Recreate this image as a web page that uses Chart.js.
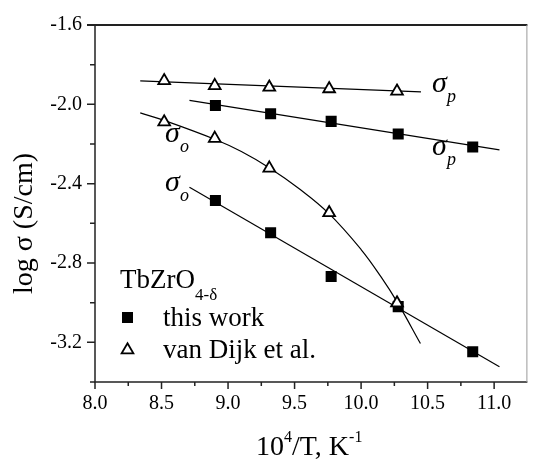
<!DOCTYPE html>
<html>
<head>
<meta charset="utf-8">
<script src="https://cdn.jsdelivr.net/npm/chart.js@4"></script>
<style>
  body { margin: 0; background: #fff; }
</style>
</head>
<body>
<canvas id="sigmaChart" width="536" height="459"></canvas>
<script>
// van Dijk et al. (triangles)
const triX = [8.52, 8.90, 9.31, 9.76, 10.27];
const triSigmaP = [-1.881, -1.906, -1.914, -1.922, -1.934];
const triSigmaO = [-2.089, -2.172, -2.322, -2.547, -3.002];

// this work (squares)
const sqX = [8.905, 9.32, 9.775, 10.279, 10.839];
const sqSigmaP = [-2.006, -2.048, -2.086, -2.150, -2.215];
const sqSigmaO = [-2.485, -2.648, -2.868, -3.020, -3.248];

// fitted lines
const fitTriPX = [8.34, 10.45];
const fitTriPY = [-1.882, -1.937];
const fitSqPX = [8.71, 11.04];
const fitSqPY = [-1.980, -2.230];
const fitSqOX = [8.71, 11.04];
const fitSqOY = [-2.418, -3.323];
const curveTriOX = [8.34, 8.52, 8.90, 9.10, 9.315, 9.54, 9.757, 10.00, 10.15, 10.274, 10.446];
const curveTriOY = [-2.043, -2.081, -2.176, -2.238, -2.322, -2.428, -2.550, -2.732, -2.870, -3.000, -3.206];

// axis ticks
const xTicks = [8.0, 8.5, 9.0, 9.5, 10.0, 10.5, 11.0];
const xMinor = [8.25, 8.75, 9.25, 9.75, 10.25, 10.75];
const yTicks = [-1.6, -2.0, -2.4, -2.8, -3.2];
const yMinor = [-1.8, -2.2, -2.6, -3.0];

const serif = '"Liberation Serif", "Times New Roman", serif';

function pts(xs, ys) {
    return xs.map((x, i) => ({ x: x, y: ys[i] }));
}

function lineSet(xs, ys, smooth) {
    return {
        data: pts(xs, ys),
        showLine: true,
        borderColor: '#000',
        borderWidth: 1.2,
        pointRadius: 0,
        tension: smooth ? 0.4 : 0,
        order: 2
    };
}

const squareStyle = {
    pointStyle: 'rect',
    pointRadius: 7.8,
    backgroundColor: '#000',
    borderColor: '#000',
    borderWidth: 0
};
const triangleStyle = {
    pointStyle: 'triangle',
    pointRadius: 6.8,
    backgroundColor: '#fff',
    borderColor: '#000',
    borderWidth: 1.8
};

const decorations = {
    id: 'decorations',
    afterDraw(chart) {
        const ctx = chart.ctx;
        const xs = chart.scales.x;
        const ys = chart.scales.y;
        const a = chart.chartArea;
        ctx.save();

        // frame
        ctx.strokeStyle = '#222';
        ctx.lineWidth = 1.5;
        ctx.beginPath();
        ctx.moveTo(a.left, a.top);
        ctx.lineTo(a.left, a.bottom);
        ctx.lineTo(a.right, a.bottom);
        ctx.stroke();
        ctx.lineWidth = 2;
        ctx.beginPath();
        ctx.moveTo(a.left - 8, a.top);
        ctx.lineTo(a.right, a.top);
        ctx.stroke();
        ctx.strokeStyle = '#999';
        ctx.lineWidth = 1;
        ctx.beginPath();
        ctx.moveTo(a.right - 0.5, a.top);
        ctx.lineTo(a.right - 0.5, a.bottom);
        ctx.stroke();

        // tick marks
        ctx.strokeStyle = '#222';
        ctx.lineWidth = 1.5;
        ctx.beginPath();
        xTicks.forEach(v => { const p = xs.getPixelForValue(v); ctx.moveTo(p, a.bottom); ctx.lineTo(p, a.bottom + 7); });
        xMinor.forEach(v => { const p = xs.getPixelForValue(v); ctx.moveTo(p, a.bottom); ctx.lineTo(p, a.bottom + 4); });
        yTicks.forEach(v => { const p = ys.getPixelForValue(v); ctx.moveTo(a.left, p); ctx.lineTo(a.left - 8, p); });
        yMinor.forEach(v => { const p = ys.getPixelForValue(v); ctx.moveTo(a.left, p); ctx.lineTo(a.left - 5, p); });
        ctx.moveTo(a.left, a.bottom); ctx.lineTo(a.left - 5, a.bottom);
        ctx.stroke();

        ctx.fillStyle = '#000';
        ctx.textAlign = 'left';
        ctx.textBaseline = 'alphabetic';

        // curve labels
        function sigma(x, y, sub) {
            ctx.font = 'italic 30px ' + serif;
            ctx.fillText('σ', x, y);
            ctx.font = 'italic 18px ' + serif;
            ctx.fillText(sub, x + 15, y + 10);
        }
        sigma(432, 92, 'p');
        sigma(432, 155, 'p');
        sigma(165, 142, 'o');
        sigma(165, 191, 'o');

        // legend
        ctx.font = '27px ' + serif;
        ctx.fillText('TbZrO', 120, 288);
        const w = ctx.measureText('TbZrO').width;
        ctx.font = '17px ' + serif;
        ctx.fillText('4-δ', 120 + w, 300);
        ctx.font = '27px ' + serif;
        ctx.fillText('this work', 163, 326);
        ctx.fillText('van Dijk et al.', 163, 358);
        Chart.helpers.drawPoint(ctx, { pointStyle: 'rect', radius: 7.8, borderWidth: 0 }, 127.5, 317.5);
        ctx.fillStyle = '#fff';
        ctx.strokeStyle = '#000';
        ctx.lineWidth = 1.8;
        Chart.helpers.drawPoint(ctx, { pointStyle: 'triangle', radius: 6.8, borderWidth: 1.8 }, 127.5, 350);
        ctx.fillStyle = '#000';

        // axis titles
        const big1 = '10', big2 = '/T, K';
        ctx.font = '28px ' + serif;
        const w1 = ctx.measureText(big1).width;
        const w2 = ctx.measureText(big2).width;
        ctx.font = '16px ' + serif;
        const s1 = ctx.measureText('4').width;
        const s2 = ctx.measureText('-1').width;
        const x0 = (a.left + a.right) / 2 - (w1 + w2 + s1 + s2) / 2 - 2;
        const base = 455;
        ctx.font = '28px ' + serif;
        ctx.fillText(big1, x0, base);
        ctx.font = '16px ' + serif;
        ctx.fillText('4', x0 + w1, base - 13);
        ctx.font = '28px ' + serif;
        ctx.fillText(big2, x0 + w1 + s1, base);
        ctx.font = '16px ' + serif;
        ctx.fillText('-1', x0 + w1 + s1 + w2, base - 13);

        ctx.translate(32, (a.top + a.bottom) / 2 + 20);
        ctx.rotate(-Math.PI / 2);
        ctx.textAlign = 'center';
        ctx.font = '28px ' + serif;
        ctx.fillText('log σ (S/cm)', 0, 0);

        ctx.restore();
    }
};

const ctx = document.getElementById('sigmaChart').getContext('2d');
new Chart(ctx, {
    type: 'scatter',
    data: {
        datasets: [
            Object.assign({ data: pts(triX, triSigmaP), order: 0 }, triangleStyle),
            Object.assign({ data: pts(triX, triSigmaO), order: 0 }, triangleStyle),
            Object.assign({ data: pts(sqX, sqSigmaP), order: 1 }, squareStyle),
            Object.assign({ data: pts(sqX, sqSigmaO), order: 1 }, squareStyle),
            lineSet(fitTriPX, fitTriPY, false),
            lineSet(fitSqPX, fitSqPY, false),
            lineSet(fitSqOX, fitSqOY, false),
            lineSet(curveTriOX, curveTriOY, true)
        ]
    },
    options: {
        responsive: false,
        animation: false,
        layout: { padding: { left: 0, right: 1, top: 22, bottom: 0 } },
        plugins: { legend: { display: false }, tooltip: { enabled: false } },
        scales: {
            x: {
                type: 'linear',
                min: 8.0,
                max: 11.25,
                afterFit: s => { s.height = 77; },
                afterBuildTicks: s => { s.ticks = xTicks.map(v => ({ value: v })); },
                grid: { display: false, drawTicks: false },
                border: { display: false },
                ticks: {
                    color: '#000',
                    padding: 10,
                    maxRotation: 0,
                    font: { family: serif, size: 20 },
                    callback: v => v.toFixed(1)
                }
            },
            y: {
                type: 'linear',
                min: -3.4,
                max: -1.6,
                afterFit: s => { s.width = 95; },
                afterBuildTicks: s => { s.ticks = yTicks.map(v => ({ value: v })); },
                grid: { display: false, drawTicks: false },
                border: { display: false },
                ticks: {
                    color: '#000',
                    padding: 13,
                    font: { family: serif, size: 20 },
                    callback: v => v.toFixed(1)
                }
            }
        }
    },
    plugins: [decorations]
});
</script>
</body>
</html>
